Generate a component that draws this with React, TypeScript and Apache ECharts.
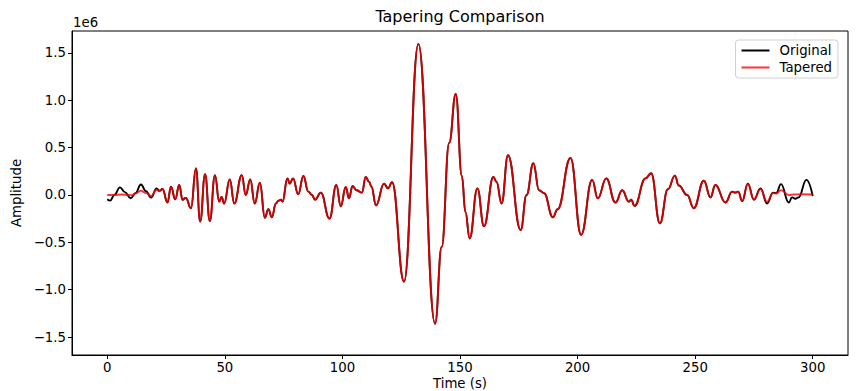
import React, { useEffect, useRef } from "react";
import * as echarts from "echarts";

// Amplitudes in units of 1e6, time in seconds
const originalHead: [number, number][] = [
  [0, -0.045], [1.2, -0.06], [3, 0.0], [5.4, 0.08], [7.5, 0.03], [10, -0.035],
  [12, 0.02], [14.3, 0.11], [16.5, 0.04], [18.6, -0.028], [21, 0.07], [22.1, 0.045],
  [23.5, 0.063], [25.6, -0.08], [27.1, 0.088],
];
const taperedHead: [number, number][] = [
  [0, 0], [3, 0], [6, 0.005], [9, 0], [10.5, -0.003], [12, 0.015], [14.3, 0.045],
  [16.5, 0.02], [18.6, -0.01], [21, 0.055], [22.1, 0.04], [23.5, 0.06], [25.6, -0.078],
  [27.1, 0.087],
];
const sharedBody: [number, number][] = [
  [28.9, -0.045], [30.6, 0.105], [32, -0.05], [33.4, -0.03], [35.6, -0.14], [37.7, 0.28],
  [39.5, -0.28], [41.6, 0.22], [43.6, -0.275], [45.8, 0.21], [47.6, -0.07], [48.6, -0.02],
  [49.7, -0.09], [52.1, 0.165], [54, -0.09], [57.2, 0.21], [58.9, 0.0], [60.8, 0.165],
  [62.7, -0.09], [64.9, 0.13], [67, -0.24], [68.5, -0.15], [70, -0.235], [71.7, -0.09],
  [72.8, -0.06], [73.8, -0.05], [74.5, -0.07], [76.6, 0.175], [77.6, 0.12], [79, 0.175],
  [81.2, 0.007], [83.4, 0.2], [85.5, 0.035], [87, 0.0], [88.4, -0.05], [90.8, 0.025],
  [94.5, -0.25], [97.4, 0.105], [99.3, -0.12], [101.4, 0.085], [102.8, -0.035],
  [104.3, 0.095], [106, 0.05], [108.3, 0.025], [109.9, 0.19], [111.3, 0.14], [112.3, 0.09],
  [114.3, -0.11], [117.7, 0.12], [119.4, 0.07], [121.1, 0.135], [126.2, -0.915],
  [132.3, 1.595], [139.4, -1.36], [142.2, -0.55], [145.4, 0.55], [148.2, 1.067],
  [150.8, 0.2], [152.3, -0.18], [154.1, -0.46], [157.4, 0.07], [160.2, -0.33],
  [164.2, 0.19], [165.5, 0.14],
  [167.7, -0.09], [170.4, 0.42], [175.8, -0.37], [178.3, 0.0], [181.2, 0.335],
  [183.6, 0.05], [185.7, 0.02], [189.5, -0.235], [191.5, -0.15], [197, 0.39],
  [201.5, -0.42], [206.2, 0.16], [208.6, -0.035], [212.2, 0.175], [216.1, -0.08],
  [219, 0.05], [221.8, -0.07], [222.8, -0.05], [224.2, -0.115], [228.9, 0.175],
  [231.3, 0.23], [235, -0.3], [238.4, 0.06], [241.4, 0.205], [243, 0.1], [246.6, 0.0],
  [249.4, -0.14], [253.7, 0.15], [256.5, -0.025], [258.6, 0.105], [262.9, -0.08],
  [265.7, 0.035], [267, 0.025], [268.3, 0.035], [270, -0.065],
];
const originalTail: [number, number][] = [
  [272.4, 0.12], [275, -0.05], [277.8, 0.07], [280.6, -0.09], [283.1, 0.025],
  [284.5, 0.02], [286.5, 0.115], [289.8, -0.08], [291.2, -0.025], [292.6, -0.04],
  [294, -0.025], [297.3, 0.16], [300, -0.01],
];
const taperedTail: [number, number][] = [
  [272.4, 0.115], [275, -0.045], [277.8, 0.06], [280.6, -0.07], [283.1, 0.02],
  [284.5, 0.015], [286.5, 0.05], [289.8, 0.0], [292, 0.005], [295, 0.008], [300, 0.005],
];
const xTicks = [0, 50, 100, 150, 200, 250, 300];
const yTicks = [-1.5, -1.0, -0.5, 0.0, 0.5, 1.0, 1.5];

const original = [...originalHead, ...sharedBody, ...originalTail];
const tapered = [...taperedHead, ...sharedBody, ...taperedTail];

const FONT = "DejaVu Sans";
const FS = 13.3;
const RED = "rgba(255,0,0,0.8)";
const fmt = (v: number, d: number) => (v < 0 ? "\u2212" : "") + Math.abs(v).toFixed(d);

export default function App() {
  const ref = useRef<HTMLDivElement>(null);
  useEffect(() => {
    if (!ref.current) return;
    const chart = echarts.init(ref.current, null, { renderer: "svg" });
    chart.setOption({
      animation: false,
      backgroundColor: "#fff",
      textStyle: { fontFamily: FONT },
      grid: {
        left: 72, right: 10, top: 31, bottom: 36,
        show: true, borderColor: "#000", borderWidth: 1, backgroundColor: "transparent",
      },
      legend: {
        data: [
          { name: "Original", icon: "rect", itemStyle: { color: "#000" } },
          { name: "Tapered", icon: "rect", itemStyle: { color: RED } },
        ],
        orient: "vertical",
        right: 20, top: 40,
        itemWidth: 28, itemHeight: 2, itemGap: 4,
        padding: [4, 6, 4, 6],
        borderColor: "#d0d0d0", borderWidth: 1, borderRadius: 3,
        textStyle: { fontFamily: FONT, fontSize: FS, color: "#000", padding: [0, 0, 0, 5] },
      },
      xAxis: {
        type: "value", min: -15, max: 315,
        axisLine: { show: true, onZero: false, lineStyle: { color: "#000" } },
        axisTick: { show: true, length: 4, lineStyle: { color: "#000" }, customValues: xTicks },
        axisLabel: { fontFamily: FONT, fontSize: FS, color: "#000", margin: 6, customValues: xTicks,
          formatter: (v: number) => fmt(v, 0) },
        splitLine: { show: false },
      },
      yAxis: {
        type: "value", min: -1.69, max: 1.732,
        axisLine: { show: true, onZero: false, lineStyle: { color: "#000" } },
        axisTick: { show: true, length: 4, lineStyle: { color: "#000" }, customValues: yTicks },
        axisLabel: { fontFamily: FONT, fontSize: FS, color: "#000", margin: 6, customValues: yTicks,
          formatter: (v: number) => fmt(v, 1) },
        splitLine: { show: false },
      },
      graphic: [
        { type: "text", x: 460, y: 16, style: { text: "Tapering Comparison", font: `16px ${FONT}`, fill: "#000", align: "center", verticalAlign: "middle" } },
        { type: "text", x: 460, y: 383, style: { text: "Time (s)", font: `${FS}px ${FONT}`, fill: "#000", align: "center", verticalAlign: "middle" } },
        { type: "text", x: 16, y: 193, rotation: Math.PI / 2, style: { text: "Amplitude", font: `${FS}px ${FONT}`, fill: "#000", align: "center", verticalAlign: "middle" } },
        { type: "text", x: 73, y: 22, style: { text: "1e6", font: `${FS}px ${FONT}`, fill: "#000", align: "left", verticalAlign: "middle" } },
      ],
      series: [
        { name: "Original", type: "line", data: original, showSymbol: false, smooth: 0.45, smoothMonotone: "x",
          lineStyle: { color: "#000", width: 1.9 }, itemStyle: { color: "#000" } },
        { name: "Tapered", type: "line", data: tapered, showSymbol: false, smooth: 0.45, smoothMonotone: "x",
          lineStyle: { color: RED, width: 1.9 }, itemStyle: { color: RED } },
      ],
    });
    return () => chart.dispose();
  }, []);
  return <div ref={ref} style={{ width: 858, height: 391, position: "absolute", left: 0, top: 0 }} />;
}
